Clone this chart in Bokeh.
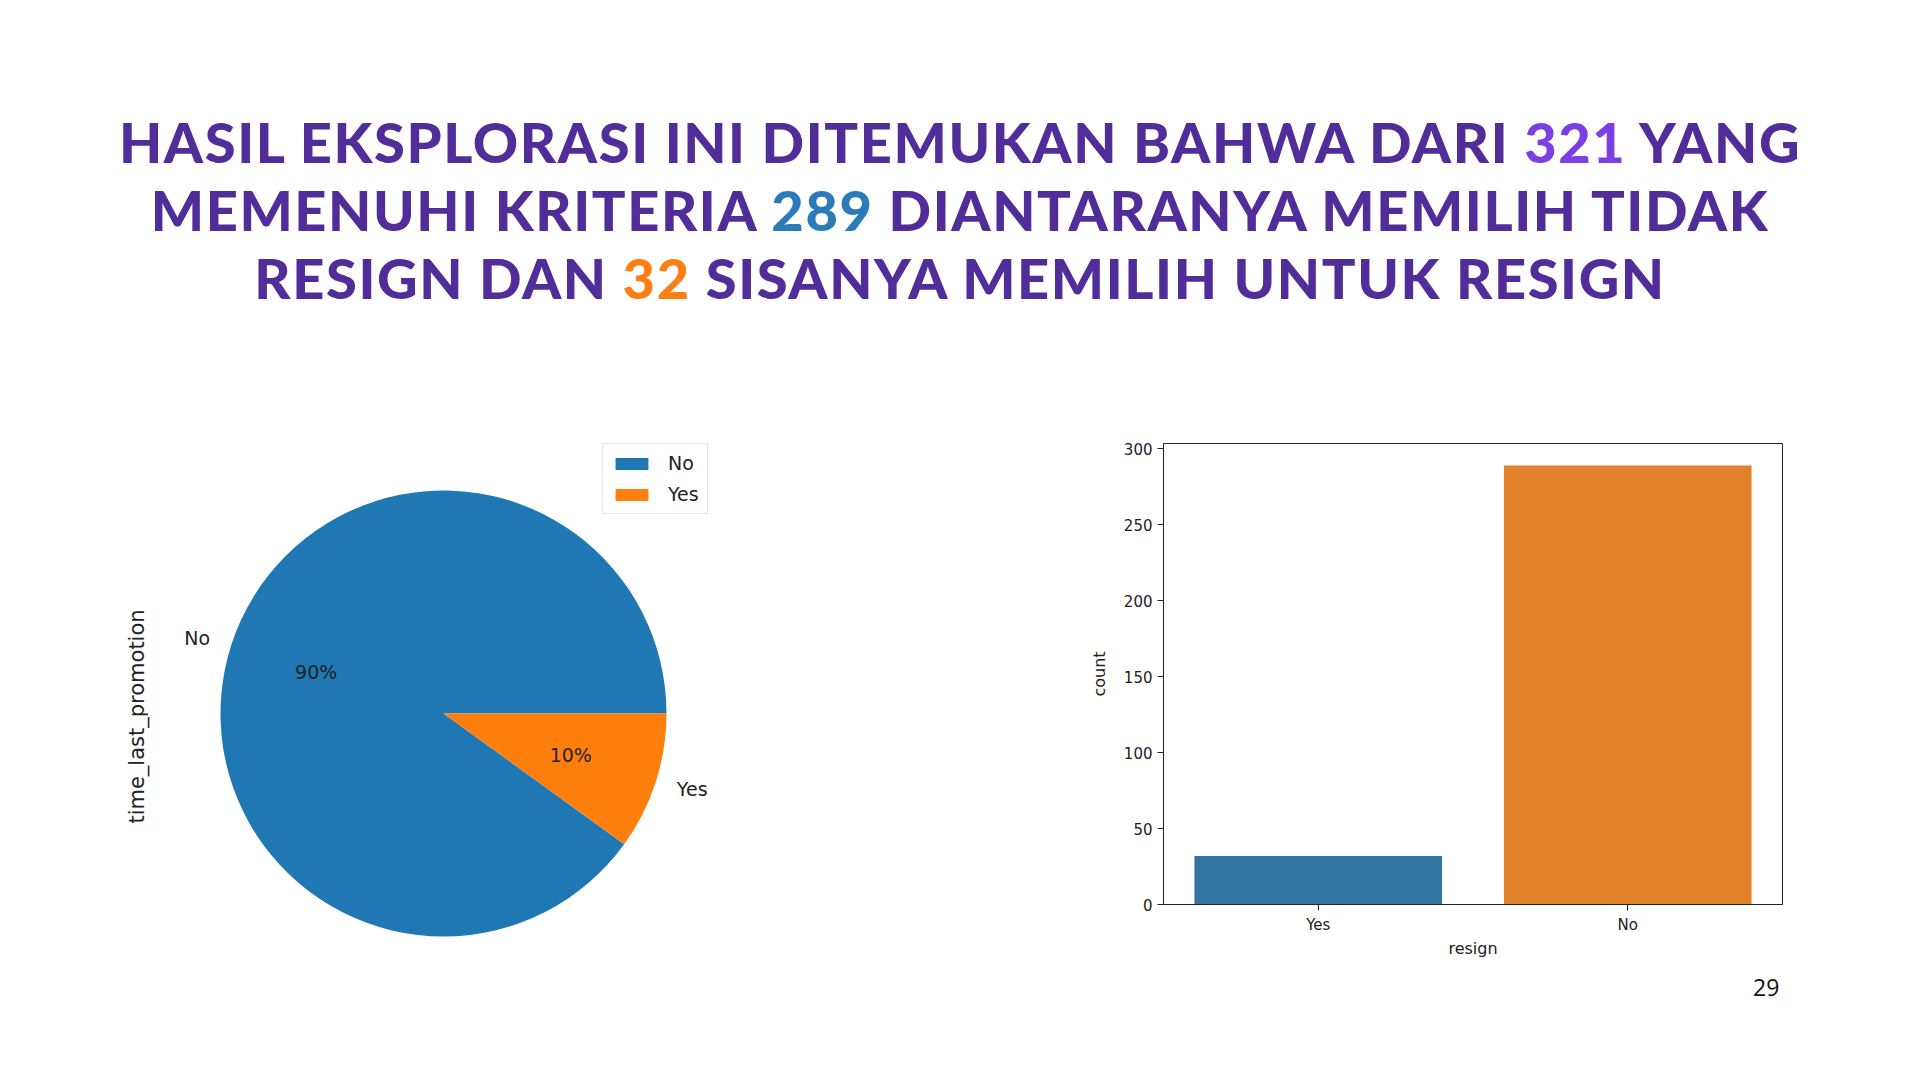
import math
from bokeh.plotting import figure
from bokeh.models import (Div, Spacer, Range1d, FactorRange, ColumnDataSource,
                          Legend, LegendItem, FixedTicker, LinearAxis)
from bokeh.layouts import column, row
from bokeh.embed import file_html
from bokeh.resources import INLINE
from bokeh.core.properties import value

# ---------------- data ----------------
pie_labels = ["No", "Yes"]
pie_counts = [289, 32]
pie_colors = ["#1f77b4", "#ff7f0e"]

bar_categories = ["Yes", "No"]
bar_counts = [32, 289]
bar_colors = ["#3274a1", "#e1812c"]
bar_ticks = [0, 50, 100, 150, 200, 250, 300]

total = 321
n_stay = 289
n_resign = 32
page_no = "29"

MAIN = "#512d9a"

# ---------------- title ----------------
title_html = (
    '<div style="padding-top:108px;width:1920px;text-align:center;'
    'font-family:Lato, \'Noto Sans\', sans-serif;font-weight:900;font-size:56px;'
    'line-height:68px;color:%s;white-space:nowrap;letter-spacing:1.6px;">'
    'HASIL EKSPLORASI INI DITEMUKAN BAHWA DARI <span style="color:#7b3fe4">%d</span> YANG<br>'
    'MEMENUHI KRITERIA <span style="color:#2b7bba">%d</span> DIANTARANYA MEMILIH TIDAK<br>'
    'RESIGN DAN <span style="color:#fd7e14">%d</span> SISANYA MEMILIH UNTUK RESIGN'
    '</div>' % (MAIN, total, n_stay, n_resign)
)
title = Div(text=title_html, width=1920, height=430, styles={"margin": "0", "padding": "0"})

# ---------------- pie ----------------
R = 223.0  # px per unit
fw, fh = 600, 546           # frame size in px
cx, cy = 283, 276           # pie centre offsets in frame px (from left / bottom)
pie = figure(width=660, height=625, output_backend="svg", toolbar_location=None,
             x_range=Range1d(-cx / R, (fw - cx) / R),
             y_range=Range1d(-cy / R, (fh - cy) / R),
             min_border_left=60, min_border_right=0, min_border_top=13, min_border_bottom=66,
             x_axis_location=None, y_axis_location=None)
pie.outline_line_color = None
pie.grid.visible = False
pie.background_fill_color = "white"

yax = LinearAxis(ticker=FixedTicker(ticks=[]), axis_label="time_last_promotion")
yax.axis_line_color = None
yax.major_tick_line_color = None
yax.minor_tick_line_color = None
yax.axis_label_standoff = 12
yax.axis_label_text_font = "DejaVu Sans"
yax.axis_label_text_font_size = "21px"
yax.axis_label_text_font_style = "normal"
yax.axis_label_text_color = "#222222"
pie.add_layout(yax, "left")

tot = sum(pie_counts)
starts, ends, lab_x, lab_y, lab_align, pct_x, pct_y, pct_txt = [], [], [], [], [], [], [], []
a = 0.0
for c in pie_counts:
    s = a
    e = a + 2 * math.pi * c / tot
    starts.append(s)
    ends.append(e)
    mid = (s + e) / 2
    lab_x.append(1.1 * math.cos(mid))
    lab_y.append(1.1 * math.sin(mid))
    lab_align.append("right" if math.cos(mid) < 0 else "left")
    pct_x.append(0.6 * math.cos(mid))
    pct_y.append(0.6 * math.sin(mid))
    pct_txt.append("%.0f%%" % (100.0 * c / tot))
    a = e

src = ColumnDataSource(dict(label=pie_labels, start=starts, end=ends, color=pie_colors,
                            lx=lab_x, ly=lab_y, la=lab_align, px=pct_x, py=pct_y, pt=pct_txt))
wedges = pie.wedge(x=0, y=0, radius=1, start_angle="start", end_angle="end",
                   direction="anticlock", fill_color="color", line_color=None, source=src)
pie.text(x="lx", y="ly", text="label", text_align="la", text_baseline="middle",
         text_font=value("DejaVu Sans"), text_font_size="19px", text_color="#222222", source=src)
pie.text(x="px", y="py", text="pt", text_align="center", text_baseline="middle",
         text_font=value("DejaVu Sans"), text_font_size="19px", text_color="#222222", source=src)

legend = Legend(items=[LegendItem(label=pie_labels[i], renderers=[wedges], index=i) for i in range(2)],
                location=(442, 475), orientation="vertical")
legend.glyph_width = 41
legend.glyph_height = 15
legend.label_text_font = "DejaVu Sans"
legend.label_text_font_size = "19px"
legend.label_text_color = "#222222"
legend.label_standoff = 16
legend.label_height = 22
legend.spacing = 9
legend.padding = 8
legend.margin = 0
legend.border_line_color = "#d0d0d0"
legend.border_line_width = 1
legend.background_fill_color = "white"
legend.background_fill_alpha = 0.9
pie.add_layout(legend)

# ---------------- bar ----------------
bar = figure(width=720, height=540, output_backend="svg", toolbar_location=None,
             x_range=FactorRange(*bar_categories, range_padding=0),
             y_range=Range1d(0, max(bar_counts) * 1.05),
             min_border_left=83, min_border_right=18, min_border_top=13, min_border_bottom=66)
bsrc = ColumnDataSource(dict(cat=bar_categories, cnt=bar_counts, color=bar_colors))
bar.vbar(x="cat", top="cnt", width=0.8, fill_color="color", line_color=None, source=bsrc)
bar.grid.visible = False
bar.outline_line_color = "#222222"
bar.outline_line_width = 1
bar.yaxis.ticker = FixedTicker(ticks=bar_ticks)
bar.yaxis.minor_tick_line_color = None
for ax in (bar.xaxis[0], bar.yaxis[0]):
    ax.axis_line_color = "#222222"
    ax.major_tick_line_color = "#222222"
    ax.major_tick_out = 6
    ax.major_tick_in = 0
    ax.major_label_text_font = "DejaVu Sans"
    ax.major_label_text_font_size = "15px"
    ax.major_label_text_color = "#222222"
    ax.major_label_standoff = 5
    ax.axis_label_text_font = "DejaVu Sans"
    ax.axis_label_text_font_size = "16px"
    ax.axis_label_text_font_style = "normal"
    ax.axis_label_text_color = "#222222"
bar.xaxis.axis_label = "resign"
bar.yaxis.axis_label = "count"
bar.xaxis.axis_label_standoff = 2
bar.yaxis.axis_label_standoff = 12
bar.xaxis.major_label_orientation = "horizontal"

# ---------------- page number ----------------
pnum = Div(text='<div style="font-family:\'Open Sans\', sans-serif;font-size:23px;color:#111;'
                'line-height:30px;">%s</div>' % page_no, width=60, height=20,
           styles={"margin-top": "-83px"})

layout = column(
    title,
    row(Spacer(width=100, height=540), pie, Spacer(width=320, height=540), bar),
    row(Spacer(width=1748, height=20), pnum),
)

html = file_html(layout, INLINE, "Hasil Eksplorasi")
html = html.replace("<body>", '<body style="margin:0;padding:0;background:white;overflow:hidden;">')
open("out.html", "w").write(html)
